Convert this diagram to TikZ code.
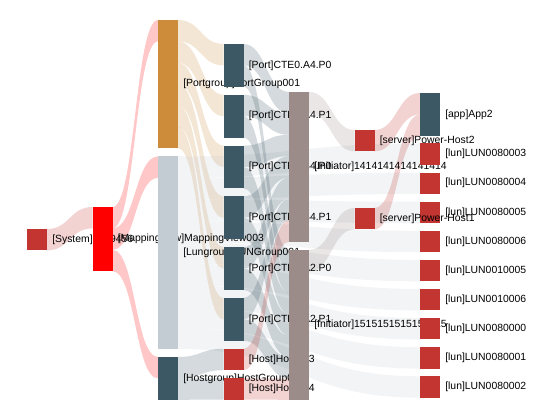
\documentclass[tikz,border=0pt]{standalone}
\usepackage{fontspec}
\setmainfont{Liberation Sans}
\usepackage{tikz}
\usetikzlibrary{calc}
\usetikzlibrary{backgrounds}

\definecolor{sysred}{RGB}{194,53,49}
\definecolor{mapred}{RGB}{255,0,0}
\definecolor{pgtan}{RGB}{204,140,58}
\definecolor{lggrey}{RGB}{196,204,211}
\definecolor{slate}{RGB}{60,88,100}
\definecolor{initgrey}{RGB}{155,139,137}

% one unit of flow, in px
\newcommand{\un}{21.4}
% band: source, offset, target, offset, width, colour
\newcommand{\sankeyband}[6]{%
  \path ($(#1.north east)+(0,#2*\un)$) coordinate (s1)
        ($(#3.north west)+(0,#4*\un)$) coordinate (d1)
        ($(s1)+(0,#5*\un)$) coordinate (s2)
        ($(d1)+(0,#5*\un)$) coordinate (d2)
        ($(s1)!.5!(d1)$) coordinate (m);
  \fill[#6, fill opacity=.22] (s1) .. controls (m |- s1) and (m |- d1) .. (d1) -- (d2) .. controls (m |- d2) and (m |- s2) .. (s2) -- cycle;}

\begin{document}
\begin{tikzpicture}[x=0.75pt,y=0.75pt,yscale=-1,xscale=1,
  bar/.style={rectangle, inner sep=0pt, outer sep=0pt, minimum width=15pt, minimum height={#1*\un*0.75pt}, anchor=north west},
  txt/.style={anchor=west, inner sep=0.75pt, font=\fontsize{7.8}{9}\selectfont}]
\useasboundingbox (0,0) rectangle (550,420);

%Shape: Rectangle [system]
\node[bar=1, fill=sysred] (sys) at (27,229) {};
% Text Node
\node[txt] (t-sys) at ($(sys.east)+(4,0)$) {[System]2109456};
%Shape: Rectangle [mapping view]
\node[bar=3, fill=mapred] (map) at (92.5,207) {};
% Text Node
\node[txt] (t-map) at ($(map.east)+(4,0)$) {[Mappingview]MappingView003};

%Shape: Rectangle [groups]
\node[bar=6, fill=pgtan] (pg) at (158,20) {};
% Text Node
\node[txt] (t-pg) at ($(pg.east)+(4,0)$) {[Portgroup]PortGroup001};
\node[bar=9, fill=lggrey] (lg) at (158,156.4) {};
% Text Node
\node[txt] (t-lg) at ($(lg.east)+(4,0)$) {[Lungroup]LUNGroup001};
\node[bar=2, fill=slate] (hg) at (158,357) {};
% Text Node
\node[txt] (t-hg) at ($(hg.east)+(4,0)$) {[Hostgroup]HostGroup001};

%Shape: Rectangle [ports]
\node[bar=2, fill=slate] (p1) at (223.5,44) {};
\node[txt] (t-p1) at ($(p1.east)+(4,0)$) {[Port]CTE0.A4.P0};
\node[bar=2, fill=slate] (p2) at (223.5,94.8) {};
\node[txt] (t-p2) at ($(p2.east)+(4,0)$) {[Port]CTE0.A4.P1};
\node[bar=2, fill=slate] (p3) at (223.5,145.6) {};
\node[txt] (t-p3) at ($(p3.east)+(4,0)$) {[Port]CTE0.B4.P0};
\node[bar=2, fill=slate] (p4) at (223.5,196.4) {};
\node[txt] (t-p4) at ($(p4.east)+(4,0)$) {[Port]CTE0.B4.P1};
\node[bar=2, fill=slate] (p5) at (223.5,247.2) {};
\node[txt] (t-p5) at ($(p5.east)+(4,0)$) {[Port]CTE0.A2.P0};
\node[bar=2, fill=slate] (p6) at (223.5,298) {};
\node[txt] (t-p6) at ($(p6.east)+(4,0)$) {[Port]CTE0.A2.P1};

%Shape: Rectangle [hosts]
\node[bar=1, fill=sysred] (h3) at (223.5,348.8) {};
\node[txt] (t-h3) at ($(h3.east)+(4,0)$) {[Host]Host003};
\node[bar=1, fill=sysred] (h4) at (223.5,378.2) {};
\node[txt] (t-h4) at ($(h4.east)+(4,0)$) {[Host]Host004};

%Shape: Rectangle [initiators]
\node[bar=7, fill=initgrey] (i14) at (289,92) {};
\node[txt] (t-i14) at ($(i14.east)+(4,0)$) {[Initiator]1414141414141414};
\node[bar=7, fill=initgrey] (i15) at (289,250) {};
\node[txt] (t-i15) at ($(i15.east)+(4,0)$) {[Initiator]1515151515151515};

%Shape: Rectangle [luns]
\node[bar=1, fill=sysred] (l1) at (420,143.5) {};
\node[txt] (t-l1) at ($(l1.east)+(4,0)$) {[lun]LUN0080003};
\node[bar=1, fill=sysred] (l2) at (420,172.6) {};
\node[txt] (t-l2) at ($(l2.east)+(4,0)$) {[lun]LUN0080004};
\node[bar=1, fill=sysred] (l3) at (420,201.7) {};
\node[txt] (t-l3) at ($(l3.east)+(4,0)$) {[lun]LUN0080005};
\node[bar=1, fill=sysred] (l4) at (420,230.8) {};
\node[txt] (t-l4) at ($(l4.east)+(4,0)$) {[lun]LUN0080006};
\node[bar=1, fill=sysred] (l5) at (420,259.9) {};
\node[txt] (t-l5) at ($(l5.east)+(4,0)$) {[lun]LUN0010005};
\node[bar=1, fill=sysred] (l6) at (420,289) {};
\node[txt] (t-l6) at ($(l6.east)+(4,0)$) {[lun]LUN0010006};
\node[bar=1, fill=sysred] (l7) at (420,318.1) {};
\node[txt] (t-l7) at ($(l7.east)+(4,0)$) {[lun]LUN0080000};
\node[bar=1, fill=sysred] (l8) at (420,347.2) {};
\node[txt] (t-l8) at ($(l8.east)+(4,0)$) {[lun]LUN0080001};
\node[bar=1, fill=sysred] (l9) at (420,376.3) {};
\node[txt] (t-l9) at ($(l9.east)+(4,0)$) {[lun]LUN0080002};

%Shape: Rectangle [app]
\node[bar=2, fill=slate] (app) at (420,93) {};
\node[txt] (t-app) at ($(app.east)+(4,0)$) {[app]App2};

%Shape: Rectangle [servers]
\node[bar=1, fill=sysred] (srv2) at (354.5,130) {};
\node[txt] (t-srv2) at ($(srv2.east)+(4,0)$) {[server]Power-Host2};
\node[bar=1, fill=sysred] (srv1) at (354.5,208) {};
\node[txt] (t-srv1) at ($(srv1.east)+(4,0)$) {[server]Power-Host1};

%Flows
\begin{scope}[on background layer]
\sankeyband{sys}{0}{map}{0}{1}{sysred}
\sankeyband{map}{0}{pg}{0}{1}{mapred}
\sankeyband{map}{1}{lg}{0}{1}{mapred}
\sankeyband{map}{2}{hg}{0}{1}{mapred}
% portgroup to ports
\sankeyband{pg}{0}{p1}{0}{1}{pgtan}
\sankeyband{pg}{1}{p2}{0}{1}{pgtan}
\sankeyband{pg}{2}{p3}{0}{1}{pgtan}
\sankeyband{pg}{3}{p4}{0}{1}{pgtan}
\sankeyband{pg}{4}{p5}{0}{1}{pgtan}
\sankeyband{pg}{5}{p6}{0}{1}{pgtan}
% lungroup to luns
\sankeyband{lg}{0}{l1}{0}{1}{lggrey}
\sankeyband{lg}{1}{l2}{0}{1}{lggrey}
\sankeyband{lg}{2}{l3}{0}{1}{lggrey}
\sankeyband{lg}{3}{l4}{0}{1}{lggrey}
\sankeyband{lg}{4}{l5}{0}{1}{lggrey}
\sankeyband{lg}{5}{l6}{0}{1}{lggrey}
\sankeyband{lg}{6}{l7}{0}{1}{lggrey}
\sankeyband{lg}{7}{l8}{0}{1}{lggrey}
\sankeyband{lg}{8}{l9}{0}{1}{lggrey}
% hostgroup to hosts
\sankeyband{hg}{0}{h3}{0}{1}{slate}
\sankeyband{hg}{1}{h4}{0}{1}{slate}
% ports to initiators
\sankeyband{p1}{0}{i14}{0}{1}{slate}
\sankeyband{p2}{0}{i14}{1}{1}{slate}
\sankeyband{p3}{0}{i14}{2}{1}{slate}
\sankeyband{p4}{0}{i14}{3}{1}{slate}
\sankeyband{p5}{0}{i14}{4}{1}{slate}
\sankeyband{p6}{0}{i14}{5}{1}{slate}
\sankeyband{p1}{1}{i15}{0}{1}{slate}
\sankeyband{p2}{1}{i15}{1}{1}{slate}
\sankeyband{p3}{1}{i15}{2}{1}{slate}
\sankeyband{p4}{1}{i15}{3}{1}{slate}
\sankeyband{p5}{1}{i15}{4}{1}{slate}
\sankeyband{p6}{1}{i15}{5}{1}{slate}
% hosts to initiators
\sankeyband{h3}{0}{i14}{6}{1}{sysred}
\sankeyband{h4}{0}{i15}{6}{1}{sysred}
% initiators to servers to app
\sankeyband{i14}{0}{srv2}{0}{1}{initgrey}
\sankeyband{i15}{0}{srv1}{0}{1}{initgrey}
\sankeyband{srv2}{0}{app}{0}{1}{sysred}
\sankeyband{srv1}{0}{app}{1}{1}{sysred}
\end{scope}

\end{tikzpicture}
\end{document}
